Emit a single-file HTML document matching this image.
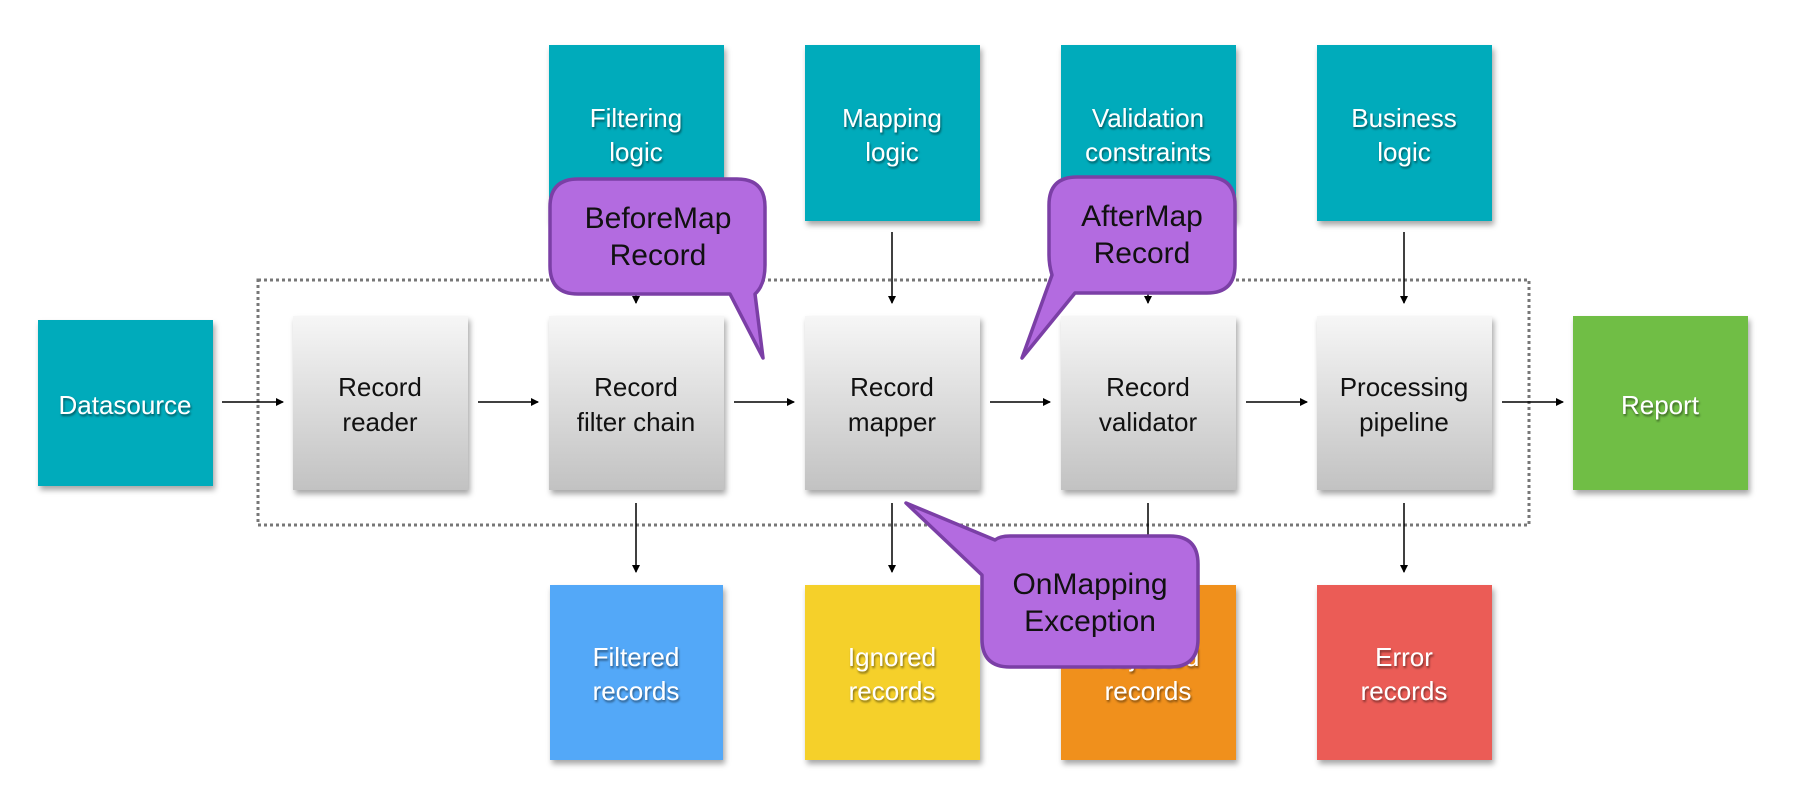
<!DOCTYPE html>
<html><head><meta charset="utf-8"><style>
html,body{margin:0;padding:0;background:#fff;}
svg{display:block;font-family:"Liberation Sans",sans-serif;}
.w{fill:#fff;font-size:26px;text-anchor:middle;filter:url(#ts);}
.b{fill:#111;font-size:26px;text-anchor:middle;}
.c{fill:#111;font-size:30px;text-anchor:middle;}
</style></head><body>
<svg width="1797" height="801" viewBox="0 0 1797 801">
<defs>
<linearGradient id="g" x1="0" y1="0" x2="0" y2="1"><stop offset="0" stop-color="#f6f6f6"/><stop offset="1" stop-color="#c2c2c2"/></linearGradient>
<filter id="sh" x="-10%" y="-10%" width="130%" height="130%"><feDropShadow dx="2" dy="4" stdDeviation="3" flood-color="#000" flood-opacity="0.35"/></filter>
<filter id="ts"><feDropShadow dx="1" dy="2" stdDeviation="1" flood-color="#000" flood-opacity="0.5"/></filter>
<marker id="a" markerWidth="8" markerHeight="8" refX="7" refY="4" orient="auto" markerUnits="userSpaceOnUse"><path d="M0,0 L8,4 L0,8 Z" fill="#000"/></marker>
</defs>
<!-- top teal boxes -->
<g filter="url(#sh)">
<rect x="549" y="45" width="175" height="176" fill="#05abbb"/>
<rect x="805" y="45" width="175" height="176" fill="#05abbb"/>
<rect x="1061" y="45" width="175" height="176" fill="#05abbb"/>
<rect x="1317" y="45" width="175" height="176" fill="#05abbb"/>
<rect x="38" y="320" width="175" height="166" fill="#05abbb"/>
<rect x="293" y="316" width="175" height="174" fill="url(#g)"/>
<rect x="549" y="316" width="175" height="174" fill="url(#g)"/>
<rect x="805" y="316" width="175" height="174" fill="url(#g)"/>
<rect x="1061" y="316" width="175" height="174" fill="url(#g)"/>
<rect x="1317" y="316" width="175" height="174" fill="url(#g)"/>
<rect x="1573" y="316" width="175" height="174" fill="#6fbe44"/>
<rect x="550" y="585" width="173" height="175" fill="#52a8f8"/>
<rect x="805" y="585" width="175" height="175" fill="#f5d02a"/>
<rect x="1061" y="585" width="175" height="175" fill="#f0901e"/>
<rect x="1317" y="585" width="175" height="175" fill="#eb5b56"/>
</g>
<text class="w" x="636" y="127">Filtering</text><text class="w" x="636" y="161">logic</text>
<text class="w" x="892" y="127">Mapping</text><text class="w" x="892" y="161">logic</text>
<text class="w" x="1148" y="127">Validation</text><text class="w" x="1148" y="161">constraints</text>
<text class="w" x="1404" y="127">Business</text><text class="w" x="1404" y="161">logic</text>
<text class="w" x="125" y="414">Datasource</text>
<text class="b" x="380" y="396">Record</text><text class="b" x="380" y="431">reader</text>
<text class="b" x="636" y="396">Record</text><text class="b" x="636" y="431">filter chain</text>
<text class="b" x="892" y="396">Record</text><text class="b" x="892" y="431">mapper</text>
<text class="b" x="1148" y="396">Record</text><text class="b" x="1148" y="431">validator</text>
<text class="b" x="1404" y="396">Processing</text><text class="b" x="1404" y="431">pipeline</text>
<text class="w" x="1660" y="414">Report</text>
<text class="w" x="636" y="666">Filtered</text><text class="w" x="636" y="700">records</text>
<text class="w" x="892" y="666">Ignored</text><text class="w" x="892" y="700">records</text>
<text class="w" x="1148" y="666">Rejected</text><text class="w" x="1148" y="700">records</text>
<text class="w" x="1404" y="666">Error</text><text class="w" x="1404" y="700">records</text>
<!-- dotted container -->
<rect x="258" y="280" width="1271" height="245" fill="none" stroke="#777" stroke-width="3" stroke-dasharray="3,3"/>
<!-- arrows -->
<g stroke="#000" stroke-width="1.5" marker-end="url(#a)">
<line x1="222" y1="402" x2="283" y2="402"/>
<line x1="478" y1="402" x2="538" y2="402"/>
<line x1="734" y1="402" x2="794" y2="402"/>
<line x1="990" y1="402" x2="1050" y2="402"/>
<line x1="1246" y1="402" x2="1307" y2="402"/>
<line x1="1502" y1="402" x2="1563" y2="402"/>
<line x1="636" y1="232" x2="636" y2="303"/>
<line x1="892" y1="232" x2="892" y2="303"/>
<line x1="1148" y1="232" x2="1148" y2="303"/>
<line x1="1404" y1="232" x2="1404" y2="303"/>
<line x1="636" y1="503" x2="636" y2="572"/>
<line x1="892" y1="503" x2="892" y2="572"/>
<line x1="1148" y1="503" x2="1148" y2="572"/>
<line x1="1404" y1="503" x2="1404" y2="572"/>
</g>
<!-- callouts -->
<g fill="#b36be0" stroke="#7b3fa6" stroke-width="3.5" stroke-linejoin="round">
<path d="M578,179 H737 Q765,179 765,207 V265 Q765,285 755,294 L763,358 L730,294 H578 Q550,294 550,266 V207 Q550,179 578,179 Z"/>
<path d="M1077,177 H1207 Q1235,177 1235,205 V265 Q1235,293 1207,293 H1075 L1022,358 L1052,275 Q1049,265 1049,255 V205 Q1049,177 1077,177 Z"/>
<path d="M1010,536 H1170 Q1198,536 1198,564 V639 Q1198,667 1170,667 H1010 Q982,667 982,639 V575 L906,503 L995,540 Q1000,536 1010,536 Z"/>
</g>
<text class="c" x="658" y="228">BeforeMap</text><text class="c" x="658" y="265">Record</text>
<text class="c" x="1142" y="226">AfterMap</text><text class="c" x="1142" y="263">Record</text>
<text class="c" x="1090" y="594">OnMapping</text><text class="c" x="1090" y="631">Exception</text>
</svg>
</body></html>
